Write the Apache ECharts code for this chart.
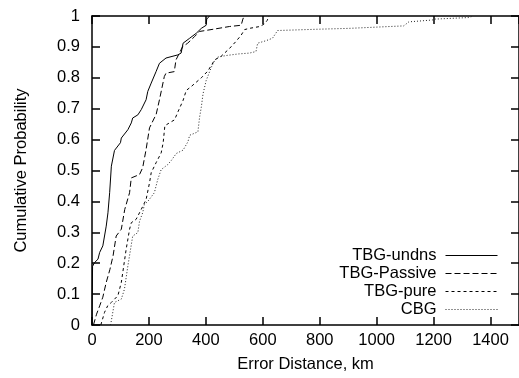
<!DOCTYPE html>
<html>
<head>
<meta charset="utf-8">
<script src="https://cdn.jsdelivr.net/npm/echarts@6/dist/echarts.min.js"></script>
<style>html,body{margin:0;padding:0;background:#fff}#c{width:519px;height:378px}</style>
</head>
<body>
<div id="c"></div>
<script>
// Series names
const seriesNames = ['TBG-undns', 'TBG-Passive', 'TBG-pure', 'CBG'];
// x ticks
const xTicks = [0, 200, 400, 600, 800, 1000, 1200, 1400];
// [error distance km, cumulative probability]
const undns = [[0,0],[1,0.1],[2,0.19],[9,0.202],[21,0.213],[27,0.235],[38,0.256],[50,0.32],[56,0.363],[62,0.428],[68,0.514],[79,0.565],[100,0.59],[103,0.605],[126,0.632],[138,0.654],[143,0.67],[161,0.68],[173,0.697],[190,0.729],[196,0.756],[208,0.783],[225,0.82],[237,0.847],[260,0.864],[301,0.874],[313,0.88],[320,0.912],[343,0.928],[366,0.944],[384,0.96],[401,0.97],[403,0.99],[413,1.0]];
const passive = [[5,0],[16,0.035],[27,0.062],[38,0.09],[50,0.138],[63,0.18],[74,0.224],[85,0.288],[103,0.31],[115,0.374],[132,0.428],[138,0.476],[167,0.487],[178,0.509],[190,0.568],[202,0.638],[219,0.67],[225,0.68],[237,0.729],[254,0.804],[260,0.815],[289,0.82],[295,0.858],[301,0.864],[307,0.88],[318,0.9],[336,0.912],[360,0.933],[378,0.95],[425,0.957],[483,0.966],[524,0.97],[530,0.99],[535,1.0]];
const pure = [[31,0],[44,0.041],[55,0.062],[68,0.073],[91,0.095],[103,0.138],[120,0.245],[132,0.31],[138,0.331],[155,0.342],[173,0.374],[190,0.406],[202,0.46],[208,0.493],[225,0.525],[243,0.557],[250,0.59],[256,0.645],[270,0.653],[290,0.664],[302,0.69],[320,0.727],[331,0.759],[349,0.772],[384,0.8],[407,0.822],[431,0.858],[454,0.87],[483,0.895],[506,0.918],[524,0.938],[536,0.956],[553,0.96],[590,0.966],[606,0.975],[615,0.985],[622,1.0]];
const cbg = [[65,0],[68,0.014],[79,0.073],[103,0.084],[114,0.116],[126,0.191],[143,0.288],[161,0.299],[167,0.336],[178,0.363],[184,0.39],[196,0.4],[219,0.428],[231,0.471],[243,0.503],[266,0.519],[279,0.533],[296,0.555],[320,0.566],[337,0.593],[343,0.614],[372,0.625],[378,0.673],[384,0.705],[390,0.748],[401,0.791],[419,0.834],[431,0.856],[442,0.867],[471,0.872],[512,0.877],[553,0.88],[576,0.885],[582,0.912],[611,0.92],[634,0.928],[652,0.953],[786,0.957],[903,0.96],[1095,0.968],[1113,0.981],[1195,0.987],[1206,0.99],[1323,0.995],[1340,1.0]];

const FONT = "'Liberation Sans', Arial, Helvetica, sans-serif";
const FS = 16.5;
const chart = echarts.init(document.getElementById('c'), null, {renderer: 'canvas'});
const axisLine = {show: true, onZero: false, lineStyle: {color: '#000', width: 1.5}};
const tick = {show: true, inside: true, length: 8, lineStyle: {color: '#000', width: 1.5}};
function mk(name, data, dash, color) {
  return {
    name: name, type: 'line', data: data, symbol: 'none', smooth: false,
    xAxisIndex: 0, yAxisIndex: 0, animation: false,
    lineStyle: {color: color, width: 1, type: dash},
    itemStyle: {color: color}
  };
}
chart.setOption({
  animation: false,
  textStyle: {fontFamily: FONT, color: '#000'},
  grid: {left: 92, top: 16, width: 429, height: 310, containLabel: false},
  legend: {
    orient: 'vertical', align: 'right', right: 21, top: 247, padding: 0,
    itemWidth: 52, itemHeight: 14, itemGap: 1,
    itemStyle: {opacity: 0, borderWidth: 0},
    lineStyle: {width: 1, opacity: 1},
    textStyle: {fontFamily: FONT, fontSize: FS, color: '#000', lineHeight: 14, padding: [0, 4, 0, 0]},
    data: seriesNames
  },
  xAxis: [{
    type: 'value', min: 0, max: 1500, interval: 200, position: 'bottom',
    name: 'Error Distance, km', nameLocation: 'middle', nameGap: 31,
    nameTextStyle: {fontFamily: FONT, fontSize: FS, color: '#000'},
    axisLine: axisLine, axisTick: tick, splitLine: {show: false},
    axisLabel: {fontFamily: FONT, fontSize: FS, color: '#000', margin: 7, showMaxLabel: false,
      formatter: function (v) { return String(v); }}
  }, {
    type: 'value', min: 0, max: 1500, interval: 200, position: 'top',
    axisLine: axisLine, axisTick: tick, splitLine: {show: false}, axisLabel: {show: false}
  }],
  yAxis: [{
    type: 'value', min: 0, max: 1, interval: 0.1, position: 'left',
    name: 'Cumulative Probability', nameLocation: 'middle', nameGap: 62, nameRotate: 90,
    nameTextStyle: {fontFamily: FONT, fontSize: FS, color: '#000'},
    axisLine: axisLine, axisTick: tick, splitLine: {show: false},
    axisLabel: {fontFamily: FONT, fontSize: FS, color: '#000', margin: 12}
  }, {
    type: 'value', min: 0, max: 1, interval: 0.1, position: 'right',
    axisLine: axisLine, axisTick: tick, splitLine: {show: false}, axisLabel: {show: false}
  }],
  series: [
    mk(seriesNames[0], undns, 'solid', '#000'),
    mk(seriesNames[1], passive, [6, 3], '#000'),
    mk(seriesNames[2], pure, [3, 3], '#000'),
    mk(seriesNames[3], cbg, [1, 2], '#222')
  ]
});
</script>
</body>
</html>
